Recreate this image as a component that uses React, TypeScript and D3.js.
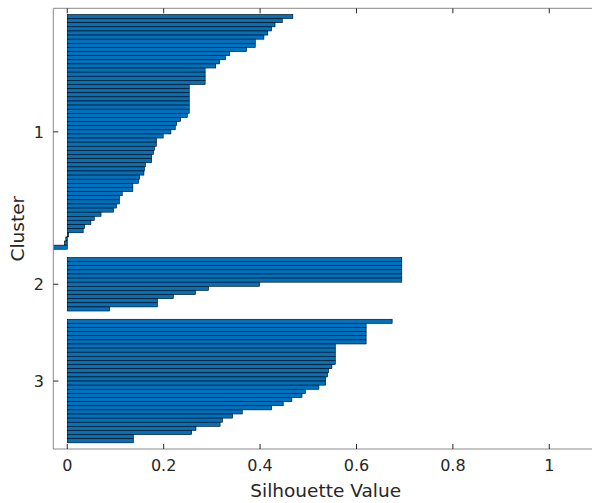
import React from "react";
import * as d3 from "d3";

const clusterNames = ["1", "2", "3"];
const cluster1 = [
  0.468, 0.446, 0.431, 0.424, 0.416, 0.408, 0.39, 0.39, 0.372, 0.337, 0.328, 0.316, 0.308,
  0.286, 0.286, 0.286, 0.286,
  0.253, 0.253, 0.253, 0.253, 0.253, 0.253, 0.253,
  0.249, 0.235, 0.227, 0.224, 0.215, 0.199, 0.185, 0.185, 0.181, 0.179,
  0.175, 0.175, 0.162, 0.16, 0.159, 0.15, 0.148, 0.136, 0.136, 0.114,
  0.108, 0.108, 0.102, 0.096, 0.07, 0.056, 0.049, 0.036, 0.033, 0.003,
  -0.003, -0.006, -0.03,
];
const cluster2 = [0.694, 0.694, 0.694, 0.694, 0.694, 0.694, 0.399, 0.293, 0.266, 0.22, 0.187, 0.187, 0.088];
const cluster3 = [
  0.674, 0.62, 0.62, 0.62, 0.62, 0.62, 0.556, 0.556, 0.556, 0.556, 0.556,
  0.549, 0.542, 0.54, 0.536, 0.536, 0.522, 0.494, 0.487, 0.466, 0.448, 0.424,
  0.363, 0.343, 0.322, 0.317, 0.267, 0.258, 0.137, 0.137,
];
const xTicks = [0, 0.2, 0.4, 0.6, 0.8, 1];
const xLabel = "Silhouette Value";
const yLabel = "Cluster";

const W = 592;
const H = 503;
const left = 53.3;
const top = 8.3;
const bottom = 449;
const xMin = -0.029;
const xMax = 1.1;

export default function App() {
  const clusters = [cluster1, cluster2, cluster3];
  const space = 2;
  // build bar positions like MATLAB silhouette
  const bars: { pos: number; v: number }[] = [];
  const tcks: number[] = [];
  let len = space;
  let prev = space;
  clusters.forEach((c) => {
    c.forEach((v, i) => bars.push({ pos: len + i + 1, v }));
    len += c.length + space;
    tcks.push(len - 0.5 * (len - prev + space - 1));
    prev = len;
  });

  const x = d3.scaleLinear().domain([xMin, xMax]).range([left, left + (xMax - xMin) * 482]);
  const y = d3.scaleLinear().domain([1, len]).range([top, bottom]);
  const right = x(xMax);
  const tickLen = 5;
  const font = "DejaVu Sans, sans-serif";

  return (
    <svg
      width={W}
      height={H}
      style={{ position: "fixed", left: 0, top: 0, background: "#fff" }}
      fontFamily={font}
    >
      <defs>
        <clipPath id="plotclip">
          <rect x={left} y={top} width={right - left} height={bottom - top} />
        </clipPath>
      </defs>
      <g clipPath="url(#plotclip)">
        {bars.map((b, i) => {
          const x0 = x(Math.min(0, b.v));
          const x1 = x(Math.max(0, b.v));
          return (
            <rect
              key={i}
              x={x0}
              y={y(b.pos - 0.5)}
              width={Math.max(0, x1 - x0)}
              height={y(b.pos + 0.5) - y(b.pos - 0.5)}
              fill="#0072BD"
              stroke="#000"
              strokeWidth={0.6}
            />
          );
        })}
      </g>
      {/* box */}
      <line x1={left} x2={right} y1={top} y2={top} stroke="#8a8a8a" strokeWidth={1} />
      <line x1={left} x2={right} y1={bottom} y2={bottom} stroke="#8a8a8a" strokeWidth={1} />
      <line x1={left} x2={left} y1={top} y2={bottom} stroke="#8a8a8a" strokeWidth={1} />
      {xTicks.map((t) => (
        <g key={t}>
          <line x1={x(t)} x2={x(t)} y1={bottom} y2={bottom - tickLen} stroke="#262626" strokeWidth={1} />
          <line x1={x(t)} x2={x(t)} y1={top} y2={top + tickLen} stroke="#262626" strokeWidth={1} />
          <text x={x(t)} y={471} textAnchor="middle" fontSize={16} fill="#262626">
            {String(t)}
          </text>
        </g>
      ))}
      {tcks.map((t, i) => (
        <g key={i}>
          <line x1={left} x2={left + tickLen} y1={y(t)} y2={y(t)} stroke="#262626" strokeWidth={1} />
          <text x={44} y={y(t)} dy="0.36em" textAnchor="end" fontSize={16} fill="#262626">
            {clusterNames[i]}
          </text>
        </g>
      ))}
      <text x={(left + 592) / 2 + 3} y={497} textAnchor="middle" fontSize={18.5} fill="#262626">
        {xLabel}
      </text>
      <text
        transform={`translate(24, ${(top + bottom) / 2}) rotate(-90)`}
        textAnchor="middle"
        fontSize={18.5}
        fill="#262626"
      >
        {yLabel}
      </text>
    </svg>
  );
}
